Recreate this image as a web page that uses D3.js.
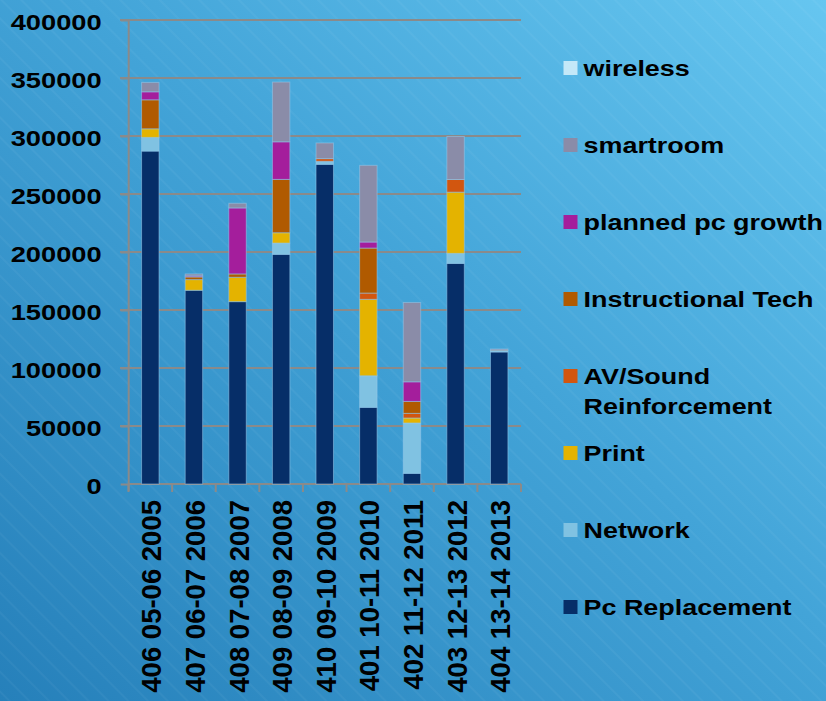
<!DOCTYPE html>
<html>
<head>
<meta charset="utf-8">
<script src="https://cdn.jsdelivr.net/npm/d3@7"></script>
<style>
  html, body { margin: 0; padding: 0; overflow: hidden; }
  text { font-family: "Liberation Sans", Arial, sans-serif; font-weight: bold; fill: #000; }
</style>
</head>
<body>
<div id="wrapper"></div>
<script>
const width = 826,
    height = 701;

// categories on the x axis
const years = ["406 05-06 2005", "407 06-07 2006", "408 07-08 2007", "409 08-09 2008", "410 09-10 2009",
    "401 10-11 2010", "402 11-12 2011", "403 12-13 2012", "404 13-14 2013"];

// series values, one per category
const pcReplacement = [287000, 167000, 157200, 198000, 275600, 66100, 9200, 190200, 113800];
const network       = [11800, 0, 0, 9700, 2600, 27200, 43400, 8600, 1100];
const print         = [7400, 9200, 21000, 8900, 0, 65900, 4300, 52800, 0];
const avSound       = [0, 0, 0, 0, 2300, 5400, 4000, 10900, 0];
const instrTech     = [25000, 2300, 2900, 46000, 0, 38800, 10300, 0, 500];
const plannedPc     = [6900, 900, 56900, 32400, 0, 5200, 16900, 0, 0];
const smartroom     = [8100, 1700, 4000, 51500, 13500, 66100, 68400, 37100, 1000];
const wireless      = [0, 0, 0, 0, 0, 0, 0, 0, 0];

const yTicks = [0, 50000, 100000, 150000, 200000, 250000, 300000, 350000, 400000];

// bottom to top
const series = [
    { key: "pc",       label: ["Pc Replacement"],              color: "#062e68", values: pcReplacement },
    { key: "network",  label: ["Network"],                     color: "#80c2e2", values: network },
    { key: "print",    label: ["Print"],                       color: "#e4b300", values: print },
    { key: "av",       label: ["AV/Sound", "Reinforcement"],   color: "#d2560f", values: avSound },
    { key: "instr",    label: ["Instructional Tech"],          color: "#b05a00", values: instrTech },
    { key: "planned",  label: ["planned pc growth"],           color: "#a41e9c", values: plannedPc },
    { key: "smart",    label: ["smartroom"],                   color: "#8a8ca8", values: smartroom },
    { key: "wireless", label: ["wireless"],                    color: "#c4e8f8", values: wireless }
];

const rows = years.map((y, i) => {
    const r = { year: y };
    series.forEach(s => r[s.key] = s.values[i]);
    return r;
});

const stacked = d3.stack().keys(series.map(s => s.key))(rows);

const x = d3.scaleBand().domain(years).range([128.5, 521]).paddingInner(0.6).paddingOuter(0.3);
const y = d3.scaleLinear().domain([0, 400000]).range([484, 20]);
const color = d3.scaleOrdinal().domain(series.map(s => s.key)).range(series.map(s => s.color));

const svg = d3.select('#wrapper').append('svg')
    .attr('width', width)
    .attr('height', height);

// background
const defs = svg.append('defs');
const grad = defs.append('linearGradient').attr('id', 'bg')
    .attr('x1', '0').attr('y1', '1').attr('x2', '1').attr('y2', '0');
grad.append('stop').attr('offset', '0%').attr('stop-color', '#2680ba');
grad.append('stop').attr('offset', '55%').attr('stop-color', '#43a4d8');
grad.append('stop').attr('offset', '100%').attr('stop-color', '#66c6f0');

const stripes = defs.append('pattern').attr('id', 'stripes')
    .attr('width', 14).attr('height', 14)
    .attr('patternUnits', 'userSpaceOnUse')
    .attr('patternTransform', 'rotate(-45)');
stripes.append('rect').attr('width', 2).attr('height', 14).attr('fill', '#ffffff').attr('opacity', 0.04);

svg.append('rect').attr('width', width).attr('height', height).attr('fill', 'url(#bg)');
svg.append('rect').attr('width', width).attr('height', height).attr('fill', 'url(#stripes)');

// gridlines
svg.append('g').selectAll('line')
    .data(yTicks.slice(1))
    .join('line')
    .attr('x1', 120).attr('x2', 521)
    .attr('y1', d => y(d)).attr('y2', d => y(d))
    .attr('stroke', '#8a8a8a').attr('stroke-width', 2);

// y axis
const yAxis = svg.append('g')
    .attr('transform', 'translate(128.7,0)')
    .call(d3.axisLeft(y).tickValues(yTicks).tickFormat(d3.format('d')).tickSize(8).tickPadding(0));
yAxis.select('.domain').attr('stroke', '#8a8a8a').attr('stroke-width', 2).attr('d', 'M0,20V491');
yAxis.selectAll('.tick line').attr('stroke', '#8a8a8a').attr('stroke-width', 2);
yAxis.selectAll('.tick text')
    .attr('x', 0).attr('dy', null).attr('y', 0)
    .attr('font-size', 22)
    .attr('font-family', null)
    .attr('transform', 'translate(-27,9.3) scale(1.24,1)')
    .attr('fill', '#000');

// x axis line and boundary ticks
const boundaries = years.map(c => x(c) - (x.step() - x.bandwidth()) / 2)
    .concat([x(years[years.length - 1]) + x.bandwidth() + (x.step() - x.bandwidth()) / 2]);
svg.append('line')
    .attr('x1', 128.5).attr('x2', 521).attr('y1', y(0)).attr('y2', y(0))
    .attr('stroke', '#8a8a8a').attr('stroke-width', 2);
svg.append('g').selectAll('line')
    .data(boundaries)
    .join('line')
    .attr('x1', d => d).attr('x2', d => d)
    .attr('y1', y(0)).attr('y2', y(0) + 8)
    .attr('stroke', '#8a8a8a').attr('stroke-width', 2);

// bars
svg.append('g').selectAll('g')
    .data(stacked)
    .join('g')
    .attr('fill', d => color(d.key))
    .selectAll('rect')
    .data(d => d.filter(p => p[1] - p[0] > 0))
    .join('rect')
    .attr('x', d => x(d.data.year))
    .attr('width', x.bandwidth())
    .attr('y', d => y(d[1]))
    .attr('height', d => y(d[0]) - y(d[1]))
    .attr('stroke', 'rgba(150,200,235,0.55)')
    .attr('stroke-width', 1);

// x labels
svg.append('g').selectAll('text')
    .data(years)
    .join('text')
    .attr('transform', d => `translate(${x(d) + x.bandwidth() / 2 + 11},500) rotate(-90)`)
    .attr('text-anchor', 'end')
    .attr('font-size', 27.5)
    .text(d => d);

// legend, top to bottom
const legendItems = series.slice().reverse();
const legend = svg.append('g').selectAll('g')
    .data(legendItems)
    .join('g')
    .attr('transform', (d, i) => `translate(563.5,${68 + i * 77})`);
legend.append('rect')
    .attr('x', 0).attr('y', -7)
    .attr('width', 14).attr('height', 14)
    .attr('fill', d => d.color);
legend.each(function (d) {
    const g = d3.select(this);
    d.label.forEach((line, j) => {
        g.append('text')
            .attr('transform', `translate(20,${8 + j * 30}) scale(1.225,1)`)
            .attr('font-size', 22)
            .text(line);
    });
});
</script>
</body>
</html>
